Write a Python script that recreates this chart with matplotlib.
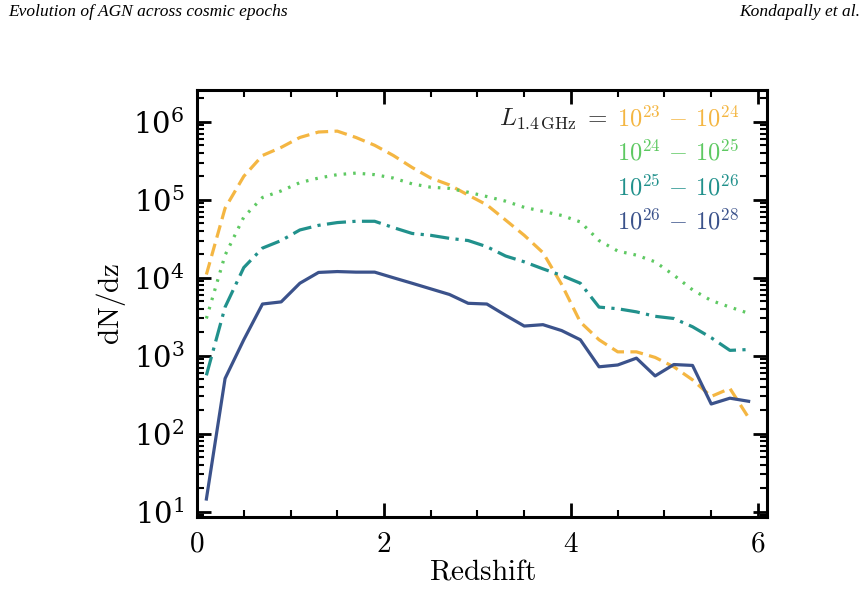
import numpy as np
import matplotlib
matplotlib.use("Agg")
import matplotlib.pyplot as plt
from matplotlib.ticker import MultipleLocator, LogLocator, NullFormatter

plt.rcParams['mathtext.fontset'] = 'cm'
plt.rcParams['font.family'] = 'serif'
plt.rcParams['font.serif'] = ['DejaVu Serif']

# redshift bin centres
z = [0.1, 0.3, 0.5, 0.7, 0.9, 1.1, 1.3, 1.5, 1.7, 1.9,
     2.1, 2.3, 2.5, 2.7, 2.9, 3.1, 3.3, 3.5, 3.7, 3.9,
     4.1, 4.3, 4.5, 4.7, 4.9, 5.1, 5.3, 5.5, 5.7, 5.9]

# dN/dz per luminosity bin
dndz_23_24 = [1.1e4, 7.8e4, 2.0e5, 3.7e5, 4.7e5, 6.3e5, 7.4e5, 7.6e5, 6.3e5, 5.0e5,
              3.7e5, 2.6e5, 1.9e5, 1.55e5, 1.15e5, 8.6e4, 5.5e4, 3.5e4, 2.1e4, 8.2e3,
              2.7e3, 1.6e3, 1.12e3, 1.12e3, 950, 720, 490, 300, 380, 160]
dndz_24_25 = [3.0e3, 1.95e4, 6.0e4, 1.07e5, 1.3e5, 1.66e5, 1.9e5, 2.1e5, 2.2e5, 2.1e5,
              1.9e5, 1.6e5, 1.45e5, 1.4e5, 1.25e5, 1.1e5, 9.6e4, 8.0e4, 7.1e4, 6.3e4,
              5.2e4, 3.0e4, 2.2e4, 1.95e4, 1.6e4, 1.08e4, 7.0e3, 5.1e3, 4.2e3, 3.5e3]
dndz_25_26 = [560, 4.2e3, 1.35e4, 2.4e4, 3.0e4, 4.1e4, 4.7e4, 5.1e4, 5.3e4, 5.3e4,
              4.4e4, 3.7e4, 3.5e4, 3.2e4, 3.0e4, 2.5e4, 1.9e4, 1.6e4, 1.3e4, 1.07e4,
              8.5e3, 4.2e3, 4.0e3, 3.65e3, 3.2e3, 3.0e3, 2.35e3, 1.7e3, 1.17e3, 1.2e3]
dndz_26_28 = [14.5, 510, 1.6e3, 4.6e3, 4.9e3, 8.5e3, 1.17e4, 1.2e4, 1.18e4, 1.18e4,
              1.0e4, 8.5e3, 7.2e3, 6.1e3, 4.7e3, 4.6e3, 3.3e3, 2.4e3, 2.5e3, 2.1e3,
              1.6e3, 720, 760, 930, 550, 770, 750, 240, 285, 260]

labels = [r'$10^{23}\,-\,10^{24}$', r'$10^{24}\,-\,10^{25}$',
          r'$10^{25}\,-\,10^{26}$', r'$10^{26}\,-\,10^{28}$']
colors = ['#f4b642', '#5ec962', '#21918c', '#3b528b']
styles = [(0, (4, 2)), (0, (0.8, 2.2)), (0, (6, 2, 1, 2)), '-']

fig = plt.figure(figsize=(8.68, 5.93), dpi=100)
ax = fig.add_axes([0.227, 0.128, 0.657, 0.720])

series = [dndz_23_24, dndz_24_25, dndz_25_26, dndz_26_28]
for vals, c, ls in zip(series, colors, styles):
    ax.plot(z, vals, color=c, ls=ls, lw=2.3)

ax.set_yscale('log')
ax.set_xlim(0, 6.1)
ax.set_ylim(8.5, 2.55e6)

ax.xaxis.set_minor_locator(MultipleLocator(0.5))
ax.yaxis.set_major_locator(LogLocator(base=10, numticks=10))
ax.yaxis.set_minor_locator(LogLocator(base=10, subs=np.arange(2, 10), numticks=20))
ax.yaxis.set_minor_formatter(NullFormatter())
ax.set_xticks([0, 2, 4, 6])
ax.set_xticklabels([r'$0$', r'$2$', r'$4$', r'$6$'])

ax.tick_params(which='both', direction='in', top=True, right=True, labelsize=21, width=1.5)
ax.tick_params(which='major', length=10, width=2, pad=9)
ax.tick_params(which='minor', length=5)
for sp in ax.spines.values():
    sp.set_linewidth(2.2)

ax.set_xlabel(r'$\mathrm{Redshift}$', fontsize=21, labelpad=0)
ax.set_ylabel(r'$\mathrm{dN/dz}$', fontsize=21, labelpad=4)

# luminosity key
ax.text(0.720, 0.934, r'$L_{1.4\,\mathrm{GHz}}\;=$', transform=ax.transAxes,
        ha='right', va='center', fontsize=18, color='#222222')
for i, (lab, c) in enumerate(zip(labels, colors)):
    ax.text(0.737, 0.934 - i * 0.081, lab, transform=ax.transAxes,
            ha='left', va='center', fontsize=17.5, color=c)

fig.text(0.009, 0.993, 'Evolution of AGN across cosmic epochs', fontsize=12.5,
         family='Liberation Serif', style='italic', ha='left', va='top')
fig.text(0.991, 0.993, 'Kondapally et al.', fontsize=12.5,
         family='Liberation Serif', style='italic', ha='right', va='top')

fig.savefig('out.png', dpi=100)
